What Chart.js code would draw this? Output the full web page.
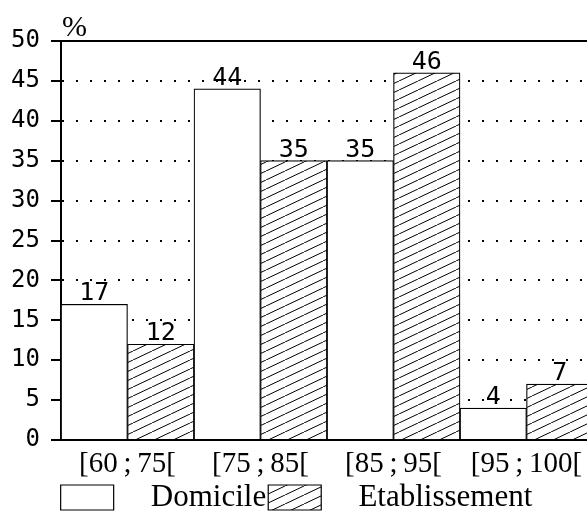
<!DOCTYPE html>
<html>
<head>
<meta charset="utf-8">
<script src="https://cdn.jsdelivr.net/npm/chart.js@4/dist/chart.umd.min.js"></script>
<style>
  html, body { margin: 0; padding: 0; overflow: hidden; background: #fff; }
</style>
</head>
<body>
<canvas id="myBarChart" width="600" height="513"></canvas>
<script>
var categories = ['[60\u2009;\u200975[', '[75\u2009;\u200985[', '[85\u2009;\u200995[', '[95\u2009;\u2009100['];
var domicile = [17, 44, 35, 4];
var etablissement = [12, 35, 46, 7];
var seriesNames = ['Domicile', 'Etablissement'];
var yTicks = [0, 5, 10, 15, 20, 25, 30, 35, 40, 45, 50];
var unitLabel = '%';

// diagonal hatch for the second series
function makeHatch() {
  var c = document.createElement('canvas');
  c.width = 19;
  c.height = 9;
  var g = c.getContext('2d');
  g.fillStyle = '#fff';
  g.fillRect(0, 0, 19, 9);
  g.strokeStyle = '#000';
  g.lineWidth = 1;
  g.beginPath();
  g.moveTo(-19, 9); g.lineTo(0, 0);
  g.moveTo(0, 9); g.lineTo(19, 0);
  g.moveTo(19, 9); g.lineTo(38, 0);
  g.stroke();
  return g.createPattern(c, 'repeat');
}

var valueLabels = {
  id: 'valueLabels',
  afterDatasetsDraw: function (chart) {
    var ctx = chart.ctx;
    ctx.save();
    ctx.font = '25px "DejaVu Sans Mono"';
    ctx.fillStyle = '#000';
    ctx.textAlign = 'center';
    ctx.textBaseline = 'alphabetic';
    chart.data.datasets.forEach(function (ds, i) {
      chart.getDatasetMeta(i).data.forEach(function (bar, j) {
        ctx.fillText(String(ds.data[j]), bar.x, bar.y - 4);
      });
    });
    ctx.restore();
  }
};

var unitText = {
  id: 'unitText',
  afterDraw: function (chart) {
    var ctx = chart.ctx;
    var a = chart.chartArea;
    ctx.save();
    ctx.font = '30px "Liberation Serif"';
    ctx.fillStyle = '#000';
    ctx.textAlign = 'left';
    ctx.textBaseline = 'alphabetic';
    ctx.fillText(unitLabel, a.left + 1, a.top - 5);
    ctx.restore();
  }
};

var ctx = document.getElementById('myBarChart');
var myBarChart = new Chart(ctx, {
  type: 'bar',
  data: {
    labels: categories,
    datasets: [{
      label: seriesNames[0],
      data: domicile,
      backgroundColor: '#fff',
      borderColor: '#000',
      borderWidth: 1.2
    }, {
      label: seriesNames[1],
      data: etablissement,
      backgroundColor: makeHatch(),
      borderColor: '#000',
      borderWidth: 1.2
    }]
  },
  options: {
    responsive: false,
    animation: false,
    layout: { padding: { top: 41, right: 7, bottom: -10 } },
    datasets: { bar: { categoryPercentage: 1, barPercentage: 1 } },
    scales: {
      x: {
        afterFit: function (scale) { scale.height = 40; },
        grid: { display: false, drawTicks: false },
        border: { display: true, color: '#000', width: 2 },
        ticks: { color: '#000', padding: 7, font: { family: '"Liberation Serif"', size: 29 } }
      },
      y: {
        min: 0,
        max: 50,
        afterBuildTicks: function (scale) {
          scale.ticks = yTicks.map(function (v) { return { value: v }; });
        },
        afterFit: function (scale) { scale.width = 61; },
        grid: {
          color: '#000',
          lineWidth: 2,
          drawTicks: true,
          tickLength: 10,
          tickColor: '#000',
          tickWidth: 2,
          tickBorderDash: []
        },
        border: {
          display: true,
          color: '#000',
          width: 2,
          dash: function (c) { return c.tick && c.tick.value === 50 ? [] : [2, 12]; }
        },
        ticks: { color: '#000', padding: 11, font: { family: '"DejaVu Sans Mono"', size: 24 } }
      }
    },
    plugins: {
      legend: {
        position: 'bottom',
        labels: {
          color: '#000',
          boxWidth: 53,
          boxHeight: 25,
          padding: 2,
          font: { family: '"Liberation Serif"', size: 31 },
          generateLabels: function (chart) {
            var items = Chart.defaults.plugins.legend.labels.generateLabels(chart);
            items.forEach(function (it) { it.text = '\u2002\u2009' + it.text; });
            return items;
          }
        }
      },
      tooltip: { enabled: false }
    }
  },
  plugins: [valueLabels, unitText]
});
</script>
</body>
</html>
